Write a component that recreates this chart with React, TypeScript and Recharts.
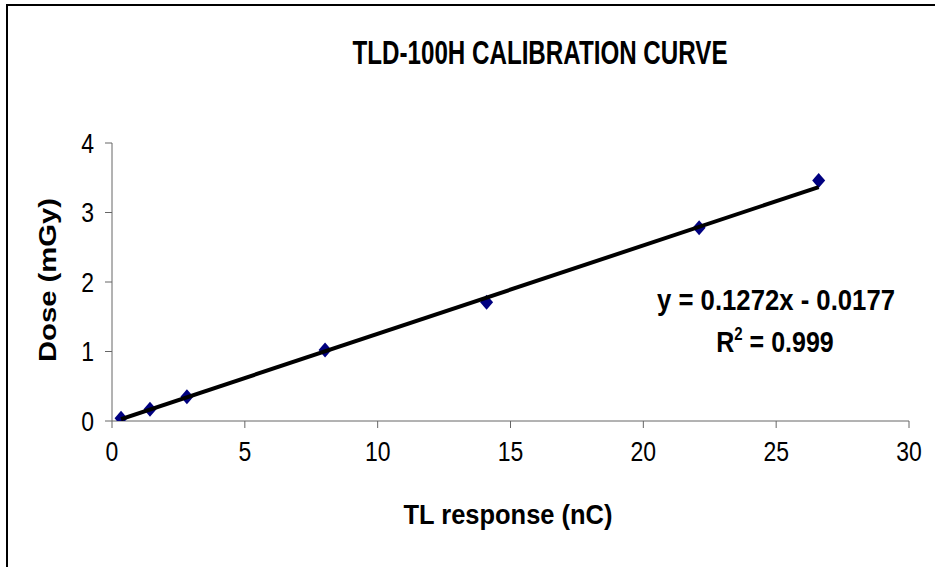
import { ScatterChart, Scatter, XAxis, YAxis } from "recharts";

const responseNc = [0.34, 1.43, 2.82, 8.02, 14.1, 22.1, 26.6];
const doseMgy = [0.04, 0.17, 0.35, 1.02, 1.71, 2.78, 3.46];
const xTicks = [0, 5, 10, 15, 20, 25, 30];
const yTicks = [0, 1, 2, 3, 4];
// linear fit y = 0.1272x - 0.0177, drawn over the measured range
const trendX = [0.34, 26.6];
const trendY = [0.026, 3.366];

const points = responseNc.map((x, i) => ({ x, y: doseMgy[i] }));
const trend = trendX.map((x, i) => ({ x, y: trendY[i] }));

const font = "'Liberation Sans', Arial, sans-serif";
const axisColor = "#666";
const stretch = 1.2;

function Diamond(props: any) {
  const { cx, cy } = props;
  if (cx == null || cy == null) return <g />;
  return (
    <path
      d={`M${cx},${cy - 7.5} L${cx + 6.5},${cy} L${cx},${cy + 7.5} L${cx - 6.5},${cy} Z`}
      fill="#000080"
    />
  );
}

function XTick(props: any) {
  const { x, y, payload } = props;
  return (
    <g transform={`translate(${x},${y}) scale(1,${stretch})`}>
      <text x={0} y={0} dy="0.71em" textAnchor="middle" fontSize={23} fontFamily={font} fill="#000">
        {payload.value}
      </text>
    </g>
  );
}

function YTick(props: any) {
  const { x, y, payload } = props;
  return (
    <g transform={`translate(${x},${y}) scale(1,${stretch})`}>
      <text x={0} y={0} dy="0.36em" textAnchor="end" fontSize={23} fontFamily={font} fill="#000">
        {payload.value}
      </text>
    </g>
  );
}

export default function App() {
  return (
    <div
      style={{
        position: "absolute",
        left: 0,
        top: 0,
        width: 935,
        height: 567,
        overflow: "hidden",
        background: "#fff",
        fontFamily: font,
      }}
    >
      <div
        style={{
          position: "absolute",
          left: 6,
          top: 4,
          width: 2000,
          height: 2000,
          border: "2px solid #000",
        }}
      />
      <div style={{ position: "absolute", left: 0, top: 0 }}>
        <ScatterChart
          width={935}
          height={567}
          margin={{ top: 143, right: 26, bottom: 116, left: 52 }}
        >
          <XAxis
            type="number"
            dataKey="x"
            domain={[0, 30]}
            ticks={xTicks}
            height={30}
            tickSize={7}
            tickMargin={13}
            stroke={axisColor}
            tick={<XTick />}
            allowDataOverflow
          />
          <YAxis
            type="number"
            dataKey="y"
            domain={[0, 4]}
            ticks={yTicks}
            width={60}
            tickSize={7}
            tickMargin={11}
            stroke={axisColor}
            tick={<YTick />}
            allowDataOverflow
          />
          <Scatter data={points} shape={Diamond} isAnimationActive={false} />
          <Scatter
            data={trend}
            line={{ stroke: "#000", strokeWidth: 4 }}
            shape={() => <g />}
            isAnimationActive={false}
          />
        </ScatterChart>
      </div>
      <svg
        width={935}
        height={567}
        style={{ position: "absolute", left: 0, top: 0, pointerEvents: "none" }}
      >
        <text
          x={540}
          y={64}
          textAnchor="middle"
          fontSize={33}
          fontWeight="bold"
          fontFamily={font}
          textLength={375}
          lengthAdjust="spacingAndGlyphs"
        >
          TLD-100H CALIBRATION CURVE
        </text>
        <text
          x={508}
          y={524}
          textAnchor="middle"
          fontSize={27}
          fontWeight="bold"
          fontFamily={font}
          textLength={209}
          lengthAdjust="spacingAndGlyphs"
        >
          TL response (nC)
        </text>
        <text
          transform="translate(56,280) rotate(-90)"
          textAnchor="middle"
          fontSize={23}
          fontWeight="bold"
          fontFamily={font}
          textLength={164}
          lengthAdjust="spacingAndGlyphs"
        >
          Dose (mGy)
        </text>
        <g transform={`translate(776,310) scale(1,${stretch})`}>
          <text
            x={0}
            y={0}
            textAnchor="middle"
            fontSize={24}
            fontWeight="bold"
            fontFamily={font}
            textLength={238}
            lengthAdjust="spacingAndGlyphs"
          >
            y = 0.1272x - 0.0177
          </text>
        </g>
        <g transform={`translate(775,352) scale(1,${stretch})`}>
          <text x={0} y={0} textAnchor="middle" fontSize={25} fontWeight="bold" fontFamily={font}>
            R
            <tspan fontSize={15} dy={-10}>
              2
            </tspan>
            <tspan dy={10}> = 0.999</tspan>
          </text>
        </g>
      </svg>
    </div>
  );
}
